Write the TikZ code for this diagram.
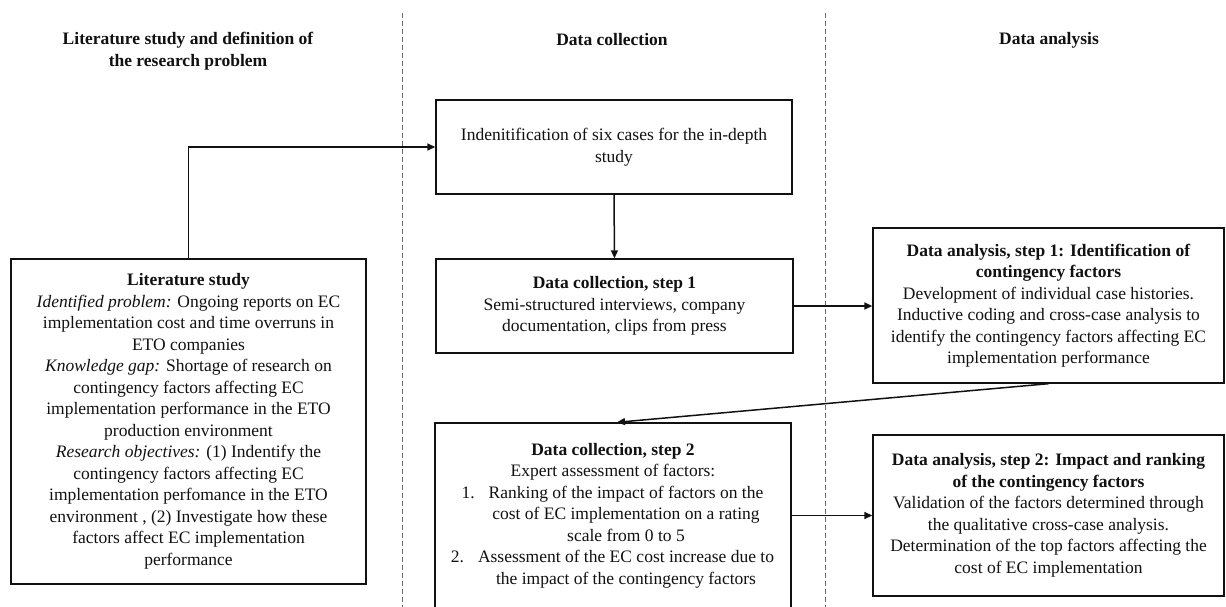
\documentclass[tikz,border=0pt]{standalone}
\usepackage{fontspec}
\setmainfont{Liberation Serif}
\usetikzlibrary{
  arrows.meta,
  positioning
}
\definecolor{flowInk}{HTML}{111111}
\definecolor{flowLane}{HTML}{6B6B6B}
\tikzset{
  every node/.style={font=\fontsize{17.5}{21.5}\selectfont, text=flowInk},
  heading/.style={font=\fontsize{17.5}{21.5}\selectfont\bfseries, align=center},
  stage/.style={
    draw=flowInk,
    line width=1.4pt,
    fill=white,
    align=center,
    inner sep=0pt
  },
  link/.style={
    -{Triangle[length=8pt,width=7pt]},
    line width=1.5pt,
    draw=flowInk
  },
  lane/.style={
    draw=flowLane,
    line width=0.8pt,
    dash pattern=on 5pt off 3pt
  }
}
\newcommand{\listline}[2]{\hspace*{26pt}\llap{#1\hspace{14pt}}#2}
\newcommand{\listcont}[1]{\hspace*{26pt}#1}

\begin{document}
\begin{tikzpicture}[x=1pt,y=-1pt]
  \useasboundingbox (0,0) rectangle (1226,607);

  % column separators
  \draw[lane] (402,13) coordinate (laneAtop) -- (402,607) coordinate (laneAbot);
  \draw[lane] (825,13) coordinate (laneBtop) -- (825,607) coordinate (laneBbot);

  % column headings
  \node[heading] (headLit) at (188,51) {Literature study and definition of\\the research problem};
  \node[heading] (headCollect) at (612,40) {Data collection};
  \node[heading] (headAnalysis) at (1049,40) {Data analysis};

  % boxes
  \node[stage, minimum width=355pt, minimum height=325pt] (lit) at (188.5,421.5) {
    \textbf{Literature study}\\
    \textit{Identified problem:} Ongoing reports on EC\\
    implementation cost and time overruns in\\
    ETO companies\\
    \textit{Knowledge gap:} Shortage of research on\\
    contingency factors affecting EC\\
    implementation performance in the ETO\\
    production environment\\
    \textit{Research objectives:} (1) Indentify the\\
    contingency factors affecting EC\\
    implementation perfomance in the ETO\\
    environment , (2) Investigate how these\\
    factors affect EC implementation\\
    performance};

  \node[stage, minimum width=356pt, minimum height=94pt] (cases) at (614,147) {
    Indenitification of six cases for the in-depth\\
    study};

  \node[stage, minimum width=357pt, minimum height=94pt] (collectOne) at (614.5,306) {
    \textbf{Data collection, step 1}\\
    Semi-structured interviews, company\\
    documentation, clips from press};

  \node[stage, minimum width=356pt, minimum height=185pt] (collectTwo) at (613,515.5) {
    \textbf{Data collection, step 2}\\
    Expert assessment of factors:\\
    \listline{1.}{Ranking of the impact of factors on the}\\
    \listcont{cost of EC implementation on a rating}\\
    \listcont{scale from 0 to 5}\\
    \listline{2.}{Assessment of the EC cost increase due to}\\
    \listcont{the impact of the contingency factors}};

  \node[stage, minimum width=351pt, minimum height=155pt] (analysisOne) at (1048.5,305.5) {
    \textbf{Data analysis, step 1: Identification of}\\
    \textbf{contingency factors}\\
    Development of individual case histories.\\
    Inductive coding and cross-case analysis to\\
    identify the contingency factors affecting EC\\
    implementation performance};

  \node[stage, minimum width=351pt, minimum height=161pt] (analysisTwo) at (1048.5,515.5) {
    \textbf{Data analysis, step 2: Impact and ranking}\\
    \textbf{of the contingency factors}\\
    Validation of the factors determined through\\
    the qualitative cross-case analysis.\\
    Determination of the top factors affecting the\\
    cost of EC implementation};

  % connectors
  \draw[link] (lit.north) |- (cases.west);
  \draw[link] (cases.south) -- (collectOne.north);
  \draw[link] (collectOne.east) -- (collectOne.east -| analysisOne.west);
  \draw[link] (analysisOne.south) -- ([xshift=4pt]collectTwo.north);
  \draw[link] (collectTwo.east) -- (collectTwo.east -| analysisTwo.west);
\end{tikzpicture}
\end{document}
